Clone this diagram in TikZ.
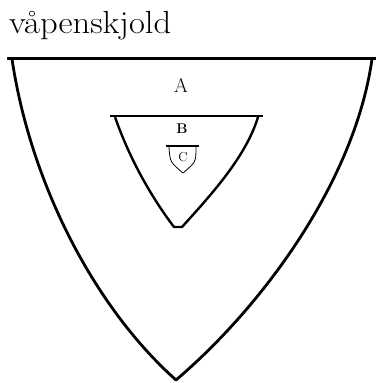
\documentclass[tikz,border=0pt]{standalone}
\usepackage{tikz}

\begin{document}
\begin{tikzpicture}[x=1pt,y=-1pt,line join=round]
  \useasboundingbox (0,0) rectangle (376,383);
  % tittel
  \node[anchor=base west,inner sep=0pt,xscale=1.08,font=\fontsize{32}{38}\selectfont] (tittel) at (9,33) {våpenskjold};
  % ytre skjold A
  \coordinate (Av) at (12,59); \coordinate (Ah) at (372,59); \coordinate (Ab) at (176,380);
  \draw[line width=3pt] (7,58)--(376,58);
  \draw[line width=2.8pt] (Av) .. controls (30,180) and (92,305) .. (Ab)
    .. controls (264,305) and (355,180) .. (Ah);
  \node[font=\fontsize{20}{24}\selectfont] (A) at (181,85) {A};
  % indre skjold B
  \coordinate (Bv) at (115,117); \coordinate (Bh) at (258,117);
  \draw[line width=2.8pt] (110,116)--(263,116);
  \draw[line width=2.4pt] (Bv) .. controls (130,160) and (152,198) .. (174,227) -- (182,227)
    .. controls (210,196) and (246,157) .. (Bh);
  \node[font=\bfseries\fontsize{14}{16}\selectfont] (B) at (182,129) {B};
  % minste skjold C
  \coordinate (Cv) at (169,147); \coordinate (Ch) at (196,147); \coordinate (Cb) at (183,173);
  \draw[line width=1.4pt] (166,146)--(199,146);
  \draw[line width=0.8pt] (Cv) .. controls (170,162) .. (Cb) .. controls (196,162) .. (Ch);
  \node[font=\fontsize{13}{15}\selectfont] (C) at (183,157) {C};
\end{tikzpicture}
\end{document}
